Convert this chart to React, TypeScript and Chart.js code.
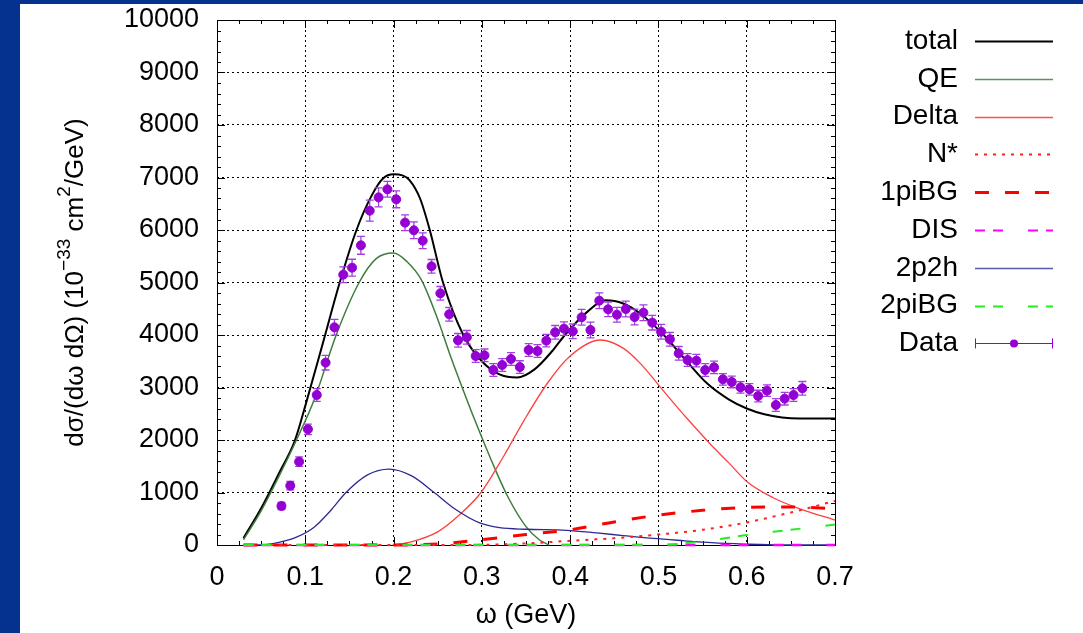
import React, { useEffect, useRef } from 'react';
import { Chart, registerables } from 'chart.js';

Chart.register(...registerables);

const FONT = "'Liberation Sans', Arial, Helvetica, sans-serif";

// ---- Data points (omega in GeV, cross section, error) ----
const dataOmega = [
  0.073, 0.083, 0.093, 0.103, 0.113, 0.123, 0.133, 0.143, 0.153, 0.163,
  0.173, 0.183, 0.193, 0.203, 0.213, 0.223, 0.233, 0.243, 0.253, 0.263,
  0.273, 0.283, 0.293, 0.303, 0.313, 0.323, 0.333, 0.343, 0.353, 0.363,
  0.373, 0.383, 0.393, 0.403, 0.413, 0.423, 0.433, 0.443, 0.453, 0.463,
  0.473, 0.483, 0.493, 0.503, 0.513, 0.523, 0.533, 0.543, 0.553, 0.563,
  0.573, 0.583, 0.593, 0.603, 0.613, 0.623, 0.633, 0.643, 0.653, 0.663,
];
const dataValue = [
  743, 1130, 1587, 2204, 2857, 3473, 4146, 5149, 5283, 5708,
  6368, 6622, 6775, 6584, 6140, 5994, 5797, 5308, 4794, 4394,
  3899, 3956, 3600, 3613, 3333, 3429, 3543, 3390, 3714, 3695,
  3892, 4051, 4121, 4070, 4337, 4095, 4654, 4489, 4387, 4495,
  4343, 4425, 4235, 4063, 3918, 3651, 3524, 3511, 3333, 3384,
  3156, 3105, 3003, 2965, 2838, 2940, 2667, 2787, 2857, 2984,
];
const dataError = [
  70, 80, 90, 100, 120, 140, 150, 150, 160, 170,
  200, 180, 150, 160, 150, 160, 150, 130, 130, 130,
  130, 130, 120, 120, 120, 120, 120, 120, 120, 120,
  120, 130, 130, 140, 150, 150, 150, 140, 140, 150,
  150, 150, 140, 140, 130, 130, 120, 120, 120, 120,
  110, 110, 110, 110, 110, 110, 120, 120, 120, 130,
];

// ---- Theory curves ----
const totalX = [0.03, 0.05, 0.07, 0.088, 0.1, 0.12, 0.139, 0.158, 0.175, 0.188, 0.2, 0.21, 0.218, 0.23, 0.241, 0.256, 0.279, 0.3, 0.32, 0.34, 0.36, 0.38, 0.394, 0.42, 0.44, 0.46, 0.48, 0.506, 0.53, 0.555, 0.58, 0.6, 0.62, 0.64, 0.66, 0.7];
const totalY = [130, 700, 1360, 1980, 2650, 3850, 5000, 6000, 6650, 6980, 7060, 7040, 6950, 6600, 6000, 5000, 4000, 3500, 3250, 3190, 3350, 3700, 4000, 4450, 4660, 4600, 4400, 4000, 3540, 3080, 2770, 2600, 2490, 2430, 2410, 2410];

const qeX = [0.03, 0.05, 0.07, 0.09, 0.11, 0.135, 0.161, 0.18, 0.2, 0.215, 0.2315, 0.25, 0.264, 0.28, 0.292, 0.3154, 0.33, 0.35, 0.365, 0.376];
const qeY = [100, 650, 1300, 2000, 2760, 4000, 5000, 5450, 5560, 5400, 5050, 4300, 3620, 2900, 2380, 1430, 900, 350, 100, 0];

const deltaX = [0.199, 0.22, 0.25, 0.275, 0.299, 0.325, 0.348, 0.375, 0.4, 0.434, 0.46, 0.48, 0.5, 0.52, 0.534, 0.56, 0.58, 0.6, 0.63, 0.66, 0.7];
const deltaY = [0, 60, 250, 580, 1000, 1700, 2380, 3100, 3600, 3905, 3750, 3450, 3050, 2650, 2380, 1900, 1560, 1210, 900, 690, 475];

const nstarX = [0.03, 0.28, 0.35, 0.4, 0.45, 0.5, 0.55, 0.6, 0.65, 0.7];
const nstarY = [0, 0, 30, 80, 130, 200, 290, 430, 620, 840];

const onePiX = [0.03, 0.2, 0.25, 0.3, 0.35, 0.4, 0.45, 0.5, 0.55, 0.6, 0.65, 0.7];
const onePiY = [0, 0, 20, 100, 200, 290, 440, 570, 660, 715, 725, 690];

const disX = [0.03, 0.2, 0.4, 0.6, 0.7];
const disY = [0, 0, 0, 0, 0];

const twoP2hX = [0.03, 0.047, 0.07, 0.09, 0.11, 0.13, 0.145, 0.17, 0.195, 0.22, 0.246, 0.27, 0.2975, 0.32, 0.35, 0.396, 0.43, 0.46, 0.494, 0.53, 0.56, 0.597, 0.64, 0.7];
const twoP2hY = [0, 0, 50, 150, 340, 680, 980, 1330, 1445, 1320, 1000, 680, 420, 330, 300, 280, 230, 180, 125, 80, 45, 18, 0, 0];

const twoPiX = [0.03, 0.48, 0.52, 0.56, 0.6, 0.65, 0.7];
const twoPiY = [0, 0, 20, 90, 190, 290, 390];

const xTicks = [0, 0.1, 0.2, 0.3, 0.4, 0.5, 0.6, 0.7];
const yTicks = [0, 1000, 2000, 3000, 4000, 5000, 6000, 7000, 8000, 9000, 10000];

const toPts = (xs: number[], ys: number[]) => xs.map((x, i) => ({ x, y: ys[i] }));

const PURPLE = '#9400d3';
const BAR = '#a23fe0';

const legendItems = [
  { label: 'total', color: '#000000', width: 2, dash: [] as number[] },
  { label: 'QE', color: '#5f915f', width: 1.5, dash: [] as number[] },
  { label: 'Delta', color: '#ff5050', width: 1.5, dash: [] as number[] },
  { label: 'N*', color: '#ff2020', width: 2, dash: [3, 6] },
  { label: '1piBG', color: '#ff0000', width: 3, dash: [14, 16] },
  { label: 'DIS', color: '#ff00ff', width: 2, dash: [10, 8, 10, 25] },
  { label: '2p2h', color: '#5a5aaa', width: 1.5, dash: [] as number[] },
  { label: '2piBG', color: '#22ee22', width: 2, dash: [10, 8, 10, 25] },
  { label: 'Data', color: PURPLE, width: 1, dash: [] as number[], data: true },
];

const chartPlugin = {
  id: 'gnuFrame',
  beforeDatasetsDraw(chart: any) {
    const { ctx, chartArea: a, scales } = chart;
    const xs = scales.x;
    const ys = scales.y;
    ctx.save();
    ctx.strokeStyle = '#000';
    ctx.lineWidth = 1;
    ctx.setLineDash([]);
    ctx.strokeRect(Math.round(a.left) + 0.5, Math.round(a.top) + 0.5, Math.round(a.right - a.left), Math.round(a.bottom - a.top));
    ctx.beginPath();
    for (let i = 0; i <= 28; i++) {
      const px = Math.round(xs.getPixelForValue(i * 0.025)) + 0.5;
      const len = i % 4 === 0 ? 8 : 4;
      ctx.moveTo(px, a.bottom);
      ctx.lineTo(px, a.bottom - len);
      ctx.moveTo(px, a.top);
      ctx.lineTo(px, a.top + len);
    }
    for (let j = 0; j <= 50; j++) {
      const py = Math.round(ys.getPixelForValue(j * 200)) + 0.5;
      const len = j % 5 === 0 ? 8 : 4;
      ctx.moveTo(a.left, py);
      ctx.lineTo(a.left + len, py);
      ctx.moveTo(a.right, py);
      ctx.lineTo(a.right - len, py);
    }
    ctx.stroke();
    ctx.restore();
  },
  beforeDatasetDraw(chart: any, args: any) {
    const ds = chart.data.datasets[args.index];
    if (!ds.isData) return;
    const { ctx, scales } = chart;
    const xs = scales.x;
    const ys = scales.y;
    ctx.save();
    ctx.strokeStyle = BAR;
    ctx.lineWidth = 1.3;
    ctx.setLineDash([]);
    ctx.beginPath();
    dataOmega.forEach((x, i) => {
      const px = xs.getPixelForValue(x);
      const top = ys.getPixelForValue(dataValue[i] + dataError[i]);
      const bot = ys.getPixelForValue(dataValue[i] - dataError[i]);
      ctx.moveTo(px, top);
      ctx.lineTo(px, bot);
      ctx.moveTo(px - 4, top);
      ctx.lineTo(px + 4, top);
      ctx.moveTo(px - 4, bot);
      ctx.lineTo(px + 4, bot);
    });
    ctx.stroke();
    ctx.restore();
  },
  afterDraw(chart: any) {
    const { ctx, chartArea: a } = chart;
    ctx.save();
    ctx.fillStyle = '#000';
    // x title
    ctx.font = `27px ${FONT}`;
    ctx.textAlign = 'center';
    ctx.textBaseline = 'middle';
    ctx.fillText('ω (GeV)', (a.left + a.right) / 2, 612);

    // y title with superscripts
    const parts: [string, boolean][] = [
      ['dσ/(dω dΩ) (10', false],
      ['−33', true],
      [' cm', false],
      ['2', true],
      ['/GeV)', false],
    ];
    const big = `26px ${FONT}`;
    const small = `19px ${FONT}`;
    let total = 0;
    parts.forEach(([t, sup]) => {
      ctx.font = sup ? small : big;
      total += ctx.measureText(t).width;
    });
    ctx.translate(56, (a.top + a.bottom) / 2);
    ctx.rotate(-Math.PI / 2);
    ctx.textAlign = 'left';
    ctx.textBaseline = 'middle';
    let cx = -total / 2;
    parts.forEach(([t, sup]) => {
      ctx.font = sup ? small : big;
      ctx.fillText(t, cx, sup ? -11 : 0);
      cx += ctx.measureText(t).width;
    });
    ctx.setTransform(1, 0, 0, 1, 0, 0);

    // legend
    const textRight = 938;
    const x0 = 955;
    const x1 = 1033;
    legendItems.forEach((it, i) => {
      const y = 37 + i * 37.8;
      ctx.font = `28px ${FONT}`;
      ctx.fillStyle = '#000';
      ctx.textAlign = 'right';
      ctx.textBaseline = 'middle';
      ctx.fillText(it.label, textRight, y);
      ctx.strokeStyle = it.color;
      ctx.lineWidth = it.width;
      ctx.setLineDash(it.dash);
      ctx.beginPath();
      ctx.moveTo(x0, Math.round(y) + 0.5);
      ctx.lineTo(x1, Math.round(y) + 0.5);
      ctx.stroke();
      ctx.setLineDash([]);
      if ((it as any).data) {
        ctx.beginPath();
        ctx.moveTo(x0 + 0.5, y - 5);
        ctx.lineTo(x0 + 0.5, y + 5);
        ctx.moveTo(x1 - 0.5, y - 5);
        ctx.lineTo(x1 - 0.5, y + 5);
        ctx.stroke();
        ctx.fillStyle = it.color;
        ctx.beginPath();
        ctx.arc((x0 + x1) / 2, y, 4, 0, Math.PI * 2);
        ctx.fill();
      }
    });
    ctx.restore();
  },
};

function lineDs(label: string, xs: number[], ys: number[], color: string, width: number, dash: number[]) {
  return {
    label,
    data: toPts(xs, ys),
    borderColor: color,
    backgroundColor: color,
    borderWidth: width,
    borderDash: dash,
    pointRadius: 0,
    pointHoverRadius: 0,
    cubicInterpolationMode: 'monotone' as const,
    fill: false,
    clip: 6,
    order: 1,
  };
}

export default function App() {
  const ref = useRef<HTMLCanvasElement | null>(null);
  useEffect(() => {
    if (!ref.current) return;
    const chart = new Chart(ref.current, {
      type: 'line',
      data: {
        datasets: [
          lineDs('2piBG', twoPiX, twoPiY, '#22ee22', 2, [10, 8, 10, 25]),
          lineDs('DIS', disX, disY, '#ff00ff', 2.5, [10, 8, 10, 25]),
          lineDs('N*', nstarX, nstarY, '#ff2020', 2, [3, 6]),
          lineDs('1piBG', onePiX, onePiY, '#ff0000', 3, [14, 16]),
          lineDs('2p2h', twoP2hX, twoP2hY, '#2b2b96', 1.3, []),
          lineDs('Delta', deltaX, deltaY, '#ff4040', 1.3, []),
          lineDs('QE', qeX, qeY, '#3d7d3d', 1.5, []),
          lineDs('total', totalX, totalY, '#000000', 2, []),
          {
            label: 'Data',
            data: toPts(dataOmega, dataValue),
            showLine: false,
            pointRadius: 4.5,
            pointHoverRadius: 4.5,
            pointBackgroundColor: PURPLE,
            pointBorderColor: PURPLE,
            borderColor: PURPLE,
            backgroundColor: PURPLE,
            order: 0,
            isData: true,
          } as any,
        ],
      },
      options: {
        responsive: false,
        animation: false,
        events: [],
        layout: { padding: { top: 16, right: 248, bottom: 0, left: 0 } },
        plugins: { legend: { display: false }, tooltip: { enabled: false } },
        scales: {
          x: {
            type: 'linear',
            min: 0,
            max: 0.7,
            afterFit: (s: any) => { s.height = 88; s.paddingLeft = 0; s.paddingRight = 0; },
            afterBuildTicks: (s: any) => { s.ticks = xTicks.map((v) => ({ value: v })); },
            ticks: {
              color: '#000',
              padding: 16,
              maxRotation: 0,
              font: { family: FONT, size: 27 },
              callback: (v: any) => (v === 0 ? '0' : Number(v).toFixed(1)),
            },
            grid: { color: '#000', lineWidth: 1, drawTicks: false },
            border: { display: false, dash: [2, 3] },
          },
          y: {
            type: 'linear',
            min: 0,
            max: 10000,
            afterFit: (s: any) => { s.width = 197; s.paddingTop = 0; s.paddingBottom = 0; },
            afterBuildTicks: (s: any) => { s.ticks = yTicks.map((v) => ({ value: v })); },
            ticks: {
              color: '#000',
              padding: 18,
              font: { family: FONT, size: 27 },
              callback: (v: any) => String(v),
            },
            grid: { color: '#000', lineWidth: 1, drawTicks: false },
            border: { display: false, dash: [2, 3] },
          },
        },
      },
      plugins: [chartPlugin],
    });
    return () => chart.destroy();
  }, []);

  return (
    <div style={{ position: 'fixed', left: 0, top: 0, width: 1083, height: 633, background: '#05318f', overflow: 'hidden' }}>
      <div style={{ position: 'absolute', left: 20, top: 4, width: 1063, height: 629, background: '#ffffff' }}>
        <canvas ref={ref} width={1063} height={629} style={{ display: 'block' }} />
      </div>
    </div>
  );
}
